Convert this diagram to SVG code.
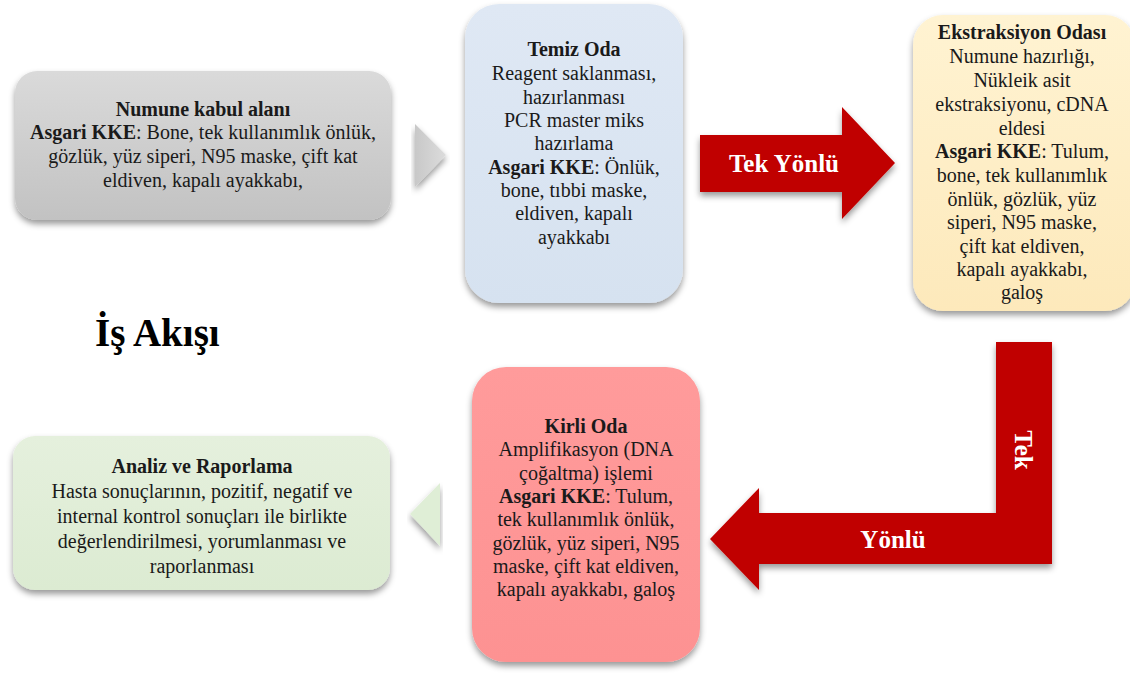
<svg xmlns="http://www.w3.org/2000/svg" width="1130" height="678" viewBox="0 0 1130 678">
<defs>
<filter id="sh" x="-10%" y="-10%" width="120%" height="125%">
<feDropShadow dx="0" dy="4" stdDeviation="3" flood-color="#000" flood-opacity="0.4"/>
</filter>
<linearGradient id="gGray" x1="0" y1="0" x2="0" y2="1"><stop offset="0" stop-color="#dadada"/><stop offset="1" stop-color="#c2c2c2"/></linearGradient>
<linearGradient id="gBlue" x1="0" y1="0" x2="0" y2="1"><stop offset="0" stop-color="#dfe8f4"/><stop offset="1" stop-color="#d6e2f0"/></linearGradient>
<linearGradient id="gCream" x1="0" y1="0" x2="0" y2="1"><stop offset="0" stop-color="#fff3d2"/><stop offset="1" stop-color="#fde9bb"/></linearGradient>
<linearGradient id="gPink" x1="0" y1="0" x2="0" y2="1"><stop offset="0" stop-color="#ff9b9b"/><stop offset="1" stop-color="#fd9292"/></linearGradient>
<linearGradient id="gGreen" x1="0" y1="0" x2="0" y2="1"><stop offset="0" stop-color="#e5f0dd"/><stop offset="1" stop-color="#dcebd2"/></linearGradient>
<linearGradient id="gChevGray" x1="0" y1="0" x2="1" y2="0"><stop offset="0" stop-color="#c8c8c8"/><stop offset="1" stop-color="#dcdcdc"/></linearGradient>
</defs>
<style>
.t{font-family:"Liberation Serif","DejaVu Serif",serif;font-size:20px;fill:#1a1a1a;text-anchor:middle}
.b{font-weight:bold}
.w{font-family:"Liberation Serif","DejaVu Serif",serif;font-size:25px;font-weight:bold;fill:#ffffff;text-anchor:middle}
.red{fill:#c00000}
</style>
<rect width="1130" height="678" fill="#ffffff"/>

<g id="connectors">
<polygon points="415,124 446,155 415,187" fill="url(#gChevGray)" filter="url(#sh)"/>
<polygon points="440,483 410,514 440,546" fill="#dfeed6" filter="url(#sh)"/>
<g id="arrow-right">
<polygon class="red" points="700,135 842,135 842,107 895,163 842,219 842,192 700,192" filter="url(#sh)"/>
<text class="w" x="784" y="172">Tek Yönlü</text>
</g>
<g id="arrow-L">
<polygon class="red" points="996,342 1052,342 1052,564 759,564 759,590 710,539 759,488 759,513 996,513" filter="url(#sh)"/>
<text class="w" transform="translate(1023,450) rotate(90)" x="0" y="8">Tek</text>
<text class="w" x="893" y="548">Yönlü</text>
</g>
</g>

<g id="node-numune">
<rect x="15" y="71" width="376" height="149" rx="22" fill="url(#gGray)" filter="url(#sh)"/>
<text class="t" x="203"><tspan class="b" x="203" y="116">Numune kabul alanı</tspan><tspan x="203" y="139"><tspan class="b">Asgari KKE</tspan>: Bone, tek kullanımlık önlük,</tspan><tspan x="203" y="163">gözlük, yüz siperi, N95 maske, çift kat</tspan><tspan x="203" y="187">eldiven, kapalı ayakkabı,</tspan></text>
</g>

<g id="node-temiz">
<rect x="465" y="4" width="218" height="299" rx="34" fill="url(#gBlue)" filter="url(#sh)"/>
<text class="t"><tspan class="b" x="574" y="56">Temiz Oda</tspan><tspan x="574" y="80">Reagent saklanması,</tspan><tspan x="574" y="104">hazırlanması</tspan><tspan x="574" y="127">PCR master miks</tspan><tspan x="574" y="150">hazırlama</tspan><tspan x="574" y="174"><tspan class="b">Asgari KKE</tspan>: Önlük,</tspan><tspan x="574" y="197">bone, tıbbi maske,</tspan><tspan x="574" y="220">eldiven, kapalı</tspan><tspan x="574" y="244">ayakkabı</tspan></text>
</g>

<g id="node-ekstraksiyon">
<rect x="913" y="15" width="222" height="296" rx="30" fill="url(#gCream)" filter="url(#sh)"/>
<text class="t"><tspan class="b" x="1022" y="39">Ekstraksiyon Odası</tspan><tspan x="1022" y="63">Numune hazırlığı,</tspan><tspan x="1022" y="87">Nükleik asit</tspan><tspan x="1022" y="111">ekstraksiyonu, cDNA</tspan><tspan x="1022" y="135">eldesi</tspan><tspan x="1022" y="158"><tspan class="b">Asgari KKE</tspan>: Tulum,</tspan><tspan x="1022" y="182">bone, tek kullanımlık</tspan><tspan x="1022" y="206">önlük, gözlük, yüz</tspan><tspan x="1022" y="229">siperi, N95 maske,</tspan><tspan x="1022" y="253">çift kat eldiven,</tspan><tspan x="1022" y="276">kapalı ayakkabı,</tspan><tspan x="1022" y="299">galoş</tspan></text>
</g>

<g id="node-kirli">
<rect x="472" y="367" width="228" height="295" rx="34" fill="url(#gPink)" filter="url(#sh)"/>
<text class="t"><tspan class="b" x="586" y="433">Kirli Oda</tspan><tspan x="586" y="456">Amplifikasyon (DNA</tspan><tspan x="586" y="480">çoğaltma) işlemi</tspan><tspan x="586" y="503"><tspan class="b">Asgari KKE</tspan>: Tulum,</tspan><tspan x="586" y="526">tek kullanımlık önlük,</tspan><tspan x="586" y="550">gözlük, yüz siperi, N95</tspan><tspan x="586" y="573">maske, çift kat eldiven,</tspan><tspan x="586" y="596">kapalı ayakkabı, galoş</tspan></text>
</g>

<g id="node-analiz">
<rect x="13" y="436" width="377" height="154" rx="22" fill="url(#gGreen)" filter="url(#sh)"/>
<text class="t"><tspan class="b" x="202" y="473">Analiz ve Raporlama</tspan><tspan x="202" y="498">Hasta sonuçlarının, pozitif, negatif ve</tspan><tspan x="202" y="523">internal kontrol sonuçları ile birlikte</tspan><tspan x="202" y="548">değerlendirilmesi, yorumlanması ve</tspan><tspan x="202" y="573">raporlanması</tspan></text>
</g>

<g id="title">
<text x="95" y="346" font-family="Liberation Serif, DejaVu Serif, serif" font-size="39" font-weight="bold" fill="#000">İş Akışı</text>
</g>
</svg>
